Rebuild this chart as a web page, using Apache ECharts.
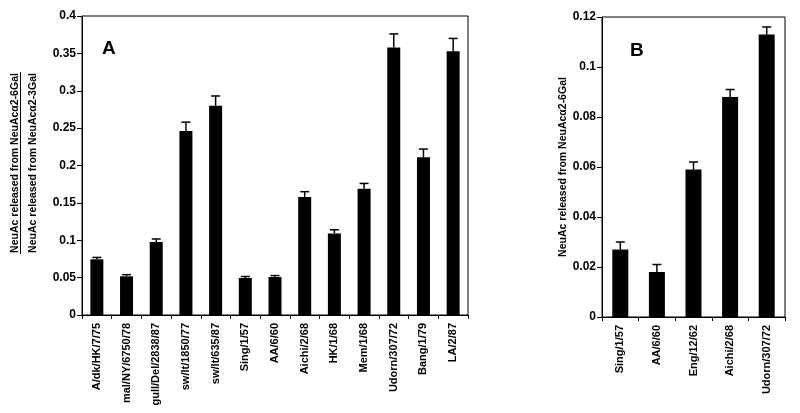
<!DOCTYPE html>
<html><head><meta charset="utf-8">
<script src="https://cdn.jsdelivr.net/npm/echarts@6/dist/echarts.min.js"></script>
<style>html,body{margin:0;padding:0;background:#fff}#c{width:800px;height:413px}</style>
</head><body><div id="c"></div>
<script>
var catsA = ["A/dk/HK/7/75","mal/NY/6750/78","gull/Del/2838/87","sw/lt/1850/77","sw/lt/635/87","Sing/1/57","AA/6/60","Aichi/2/68","HK/1/68","Mem/1/68","Udorn/307/72","Bang/1/79","LA/2/87"];
var valsA = [0.0745,0.0517,0.0977,0.246,0.280,0.0495,0.0508,0.158,0.109,0.169,0.358,0.211,0.353];
var errsA = [0.0025,0.0023,0.004,0.012,0.013,0.002,0.002,0.007,0.005,0.007,0.018,0.011,0.017];
var catsB = ["Sing/1/57","AA/6/60","Eng/12/62","Aichi/2/68","Udorn/307/72"];
var valsB = [0.027,0.018,0.059,0.088,0.113];
var errsB = [0.003,0.003,0.003,0.003,0.003];
var yLabelTop = "NeuAc released from NeuAc\u03b12-6Gal";
var yLabelBottom = "NeuAc released from NeuAc\u03b12-3Gal";
var yLabelB = "NeuAc released from NeuAc\u03b12-6Gal";

var FONT = "'Liberation Sans', Arial, sans-serif";
var chart = echarts.init(document.getElementById('c'), null, {renderer:'canvas'});

function errData(vals, errs){ return vals.map(function(v,i){ return [i, v, v+errs[i]]; }); }
function errRender(params, api){
  var x = api.value(0), lo = api.coord([x, api.value(1)]), hi = api.coord([x, api.value(2)]);
  var cap = 4.5;
  return {type:'group', children:[
    {type:'line', shape:{x1:lo[0], y1:lo[1], x2:hi[0], y2:hi[1]}, style:{stroke:'#000', lineWidth:1.5}},
    {type:'line', shape:{x1:hi[0]-cap, y1:hi[1], x2:hi[0]+cap, y2:hi[1]}, style:{stroke:'#000', lineWidth:1.5}}
  ]};
}
function xAx(idx, cats){
  return {gridIndex:idx, type:'category', data:cats,
    axisLine:{lineStyle:{color:'#000', width:1}},
    axisTick:{show:true, alignWithLabel:false, length:4, lineStyle:{color:'#000'}},
    axisLabel:{rotate:90, interval:0, color:'#000', fontFamily:FONT, fontWeight:'bold', fontSize:11, margin:8},
    splitLine:{show:false}};
}
function yAx(idx, max, interval){
  return {gridIndex:idx, type:'value', min:0, max:max, interval:interval,
    axisLine:{show:true, lineStyle:{color:'#000', width:1}},
    axisTick:{show:true, length:5, lineStyle:{color:'#000'}},
    axisLabel:{color:'#000', fontFamily:FONT, fontWeight:'bold', fontSize:12, margin:6},
    splitLine:{show:false}};
}
var option = {
  animation:false,
  backgroundColor:'#fff',
  grid:[
    {left:82, right:332, top:16, bottom:98, show:true, borderColor:'#000', borderWidth:1, backgroundColor:'transparent'},
    {left:602, right:15, top:17, bottom:96, show:true, borderColor:'#000', borderWidth:1, backgroundColor:'transparent'}
  ],
  xAxis:[xAx(0, catsA), xAx(1, catsB)],
  yAxis:[yAx(0, 0.4, 0.05), yAx(1, 0.12, 0.02)],
  series:[
    {type:'bar', xAxisIndex:0, yAxisIndex:0, data:valsA, barWidth:13, itemStyle:{color:'#000'}},
    {type:'custom', xAxisIndex:0, yAxisIndex:0, data:errData(valsA, errsA), renderItem:errRender, z:3},
    {type:'bar', xAxisIndex:1, yAxisIndex:1, data:valsB, barWidth:16, itemStyle:{color:'#000'}},
    {type:'custom', xAxisIndex:1, yAxisIndex:1, data:errData(valsB, errsB), renderItem:errRender, z:3}
  ],
  graphic:[
    {type:'text', left:102, top:39, style:{text:'A', font:'bold 19px '+FONT, fill:'#000'}},
    {type:'text', left:630, top:41, style:{text:'B', font:'bold 19px '+FONT, fill:'#000'}},
    {type:'text', x:15, y:163, rotation:Math.PI/2, style:{text:yLabelTop, font:'bold 10.5px '+FONT, fill:'#000', align:'center', verticalAlign:'middle'}},
    {type:'line', shape:{x1:20.5, y1:72, x2:20.5, y2:254}, style:{stroke:'#000', lineWidth:1}},
    {type:'text', x:33, y:163, rotation:Math.PI/2, style:{text:yLabelBottom, font:'bold 10.5px '+FONT, fill:'#000', align:'center', verticalAlign:'middle'}},
    {type:'text', x:563, y:167, rotation:Math.PI/2, style:{text:yLabelB, font:'bold 10.5px '+FONT, fill:'#000', align:'center', verticalAlign:'middle'}}
  ]
};
chart.setOption(option);
</script></body></html>
